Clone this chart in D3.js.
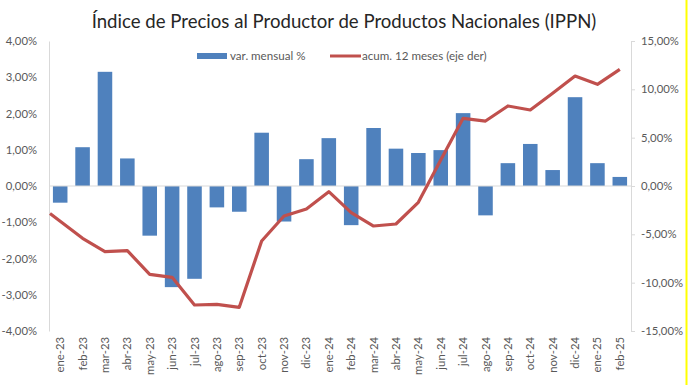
<!DOCTYPE html>
<html><head><meta charset="utf-8">
<script src="https://cdn.jsdelivr.net/npm/d3@7/dist/d3.min.js"></script>
<style>body{margin:0;background:#fff}svg{display:block}</style>
</head><body>
<svg id="c" width="688" height="385"></svg>
<script>
const categories = ["ene-23","feb-23","mar-23","abr-23","may-23","jun-23","jul-23","ago-23","sep-23","oct-23","nov-23","dic-23","ene-24","feb-24","mar-24","abr-24","may-24","jun-24","jul-24","ago-24","sep-24","oct-24","nov-24","dic-24","ene-25","feb-25"];
const monthly = [-0.46,1.07,3.15,0.76,-1.37,-2.79,-2.56,-0.59,-0.71,1.47,-0.98,0.74,1.32,-1.08,1.60,1.03,0.91,0.99,2.01,-0.81,0.63,1.16,0.44,2.45,0.63,0.25];
const accum12 = [-3.65,-5.41,-6.79,-6.69,-9.14,-9.45,-12.31,-12.25,-12.55,-5.69,-3.10,-2.38,-0.59,-2.76,-4.14,-3.93,-1.69,2.69,7.0,6.72,8.28,7.86,9.59,11.38,10.52,12.07];
const leftTicks = [-4,-3,-2,-1,0,1,2,3,4];
const rightTicks = [-15,-10,-5,0,5,10,15];
const title = "Índice de Precios al Productor de Productos Nacionales (IPPN)";
const seriesNames = ["var. mensual %","acum. 12 meses (eje der)"];

const fmt = v => v.toFixed(2).replace(".", ",") + "%";
const svg = d3.select("#c");
const L = 49, R = 631, T = 41, B = 331;
const font = "Lato, 'Open Sans', sans-serif";
const grey = "#595959";

const x = d3.scaleBand().domain(categories).range([L, R]).paddingInner(0.35).paddingOuter(0.175);
const y = d3.scaleLinear().domain([-4, 4]).range([B, T]);
const y2 = d3.scaleLinear().domain([-15, 15]).range([B, T]);

// title
svg.append("text").attr("x", 344).attr("y", 28).attr("text-anchor", "middle")
  .attr("font-family", font).attr("font-size", 18.6).attr("fill", "#262626").text(title);

// bars
svg.append("g").selectAll("rect").data(monthly).join("rect")
  .attr("x", (d, i) => x(categories[i]))
  .attr("width", x.bandwidth())
  .attr("y", d => y(Math.max(0, d)))
  .attr("height", d => Math.abs(y(d) - y(0)))
  .attr("fill", "#4f81bd");

// zero line
svg.append("line").attr("x1", L).attr("x2", R).attr("y1", y(0)).attr("y2", y(0))
  .attr("stroke", "#d9d9d9").attr("stroke-width", 1);

// left axis
const ax = d3.axisLeft(y).tickValues(leftTicks).tickSize(0).tickPadding(12).tickFormat(fmt);
const gL = svg.append("g").attr("transform", `translate(${L},0)`).call(ax);
gL.select(".domain").attr("stroke", "#d9d9d9");
gL.selectAll("text").attr("font-family", font).attr("font-size", 11.3).attr("fill", grey);

// right axis
const ax2 = d3.axisRight(y2).tickValues(rightTicks).tickSize(4).tickSizeOuter(4).tickPadding(6).tickFormat(fmt);
const gR = svg.append("g").attr("transform", `translate(${R},0)`).call(ax2);
gR.select(".domain").attr("stroke", "#d9d9d9");
gR.selectAll(".tick line").attr("stroke", "#d9d9d9");
gR.selectAll("text").attr("font-family", font).attr("font-size", 11.3).attr("fill", grey);

// x labels
svg.append("g").selectAll("text").data(categories).join("text")
  .attr("transform", d => `translate(${x(d) + x.bandwidth() / 2 + 4},337) rotate(-90)`)
  .attr("text-anchor", "end")
  .attr("font-family", font).attr("font-size", 11.3).attr("fill", grey).text(d => d);

// line (extended to left edge of plot as in the reference)
const cx = i => x(categories[i]) + x.bandwidth() / 2;
const pts = accum12.map((v, i) => [cx(i), y2(v)]);
const slope = (pts[1][1] - pts[0][1]) / (pts[1][0] - pts[0][0]);
const start = [L + 1, pts[0][1] - slope * (pts[0][0] - L - 1)];
svg.append("path").datum([start, ...pts])
  .attr("d", d3.line())
  .attr("fill", "none").attr("stroke", "#c0504d").attr("stroke-width", 3.2)
  .attr("stroke-linejoin", "round");

// legend
const lg = svg.append("g");
lg.append("rect").attr("x", 197).attr("y", 53).attr("width", 30).attr("height", 6).attr("fill", "#4f81bd");
lg.append("text").attr("x", 230).attr("y", 60).attr("font-family", font).attr("font-size", 11.6).attr("fill", grey).text(seriesNames[0]);
lg.append("line").attr("x1", 330).attr("x2", 361).attr("y1", 56).attr("y2", 56).attr("stroke", "#c0504d").attr("stroke-width", 3);
lg.append("text").attr("x", 362).attr("y", 60).attr("font-family", font).attr("font-size", 11.6).attr("fill", grey).text(seriesNames[1]);

// right yellow edge
svg.append("line").attr("x1", 686.5).attr("x2", 686.5).attr("y1", 0).attr("y2", 385).attr("stroke", "#ffff00").attr("stroke-width", 2);
</script>
</body></html>
